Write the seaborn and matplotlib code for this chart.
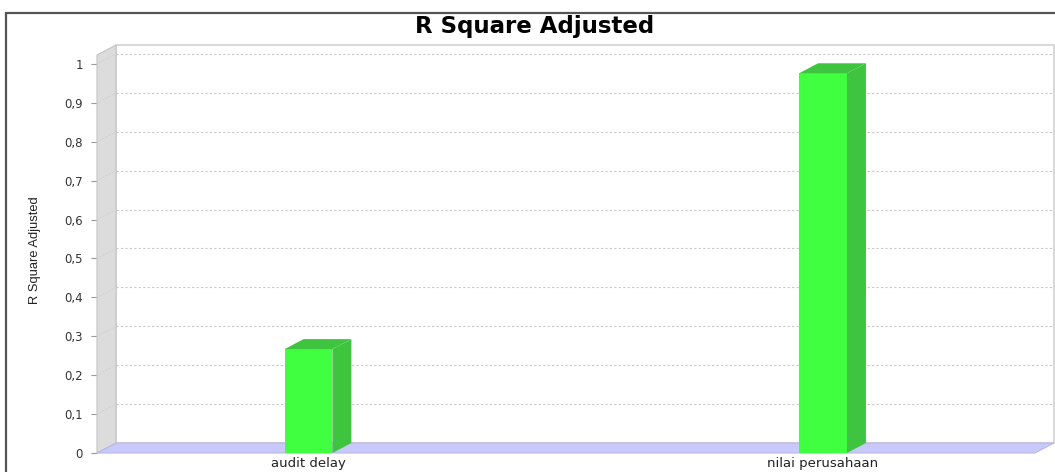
import numpy as np
import pandas as pd
import seaborn as sns
import matplotlib
matplotlib.use("Agg")
import matplotlib.pyplot as plt
from matplotlib.patches import Polygon, Rectangle
from matplotlib.ticker import FuncFormatter

# data
categories = ["audit delay", "nilai perusahaan"]
r2_adjusted = [0.267, 0.976]
y_ticks = [0, 0.1, 0.2, 0.3, 0.4, 0.5, 0.6, 0.7, 0.8, 0.9, 1.0]

sns.set_theme(style="white")
plt.rcParams["font.family"] = ["DejaVu Sans"]

W, H = 1055, 472
fig = plt.figure(figsize=(W / 100, H / 100), dpi=100)
fig.patch.set_facecolor("white")
# front plane of the 3d plot
ax = fig.add_axes([97 / W, 19 / H, 938 / W, 398 / H])
ax.set_facecolor("none")

bar_w = 0.093
df = pd.DataFrame({"model": categories, "r2": r2_adjusted})
sns.barplot(data=df, x="model", y="r2", color="#40ff40", saturation=1,
            width=bar_w, edgecolor="none", ax=ax, zorder=5)

ax.set_xlim(-0.411, 1.412)
ax.set_ylim(0, 1.023)
xmin, xmax = ax.get_xlim()
ymin, ymax = ax.get_ylim()
# depth offset (19px right, 10px up) in data units
dx = 19 * (xmax - xmin) / 938
dy = 10 * (ymax - ymin) / 398

# back wall
ax.add_patch(Rectangle((xmin + dx, ymin + dy), xmax - xmin, ymax - ymin,
                       facecolor="white", edgecolor="#d2d2d2", lw=1.2,
                       clip_on=False, zorder=0.5))
# gridlines on back wall + faint lines on the side wall
for t in y_ticks[1:]:
    ax.plot([xmin + dx, xmax + dx], [t + dy, t + dy], color="#c8c8c8", lw=0.8,
            dashes=(2, 2), clip_on=False, zorder=1)
# left wall
ax.add_patch(Polygon([(xmin, ymin), (xmin, ymax), (xmin + dx, ymax + dy),
                      (xmin + dx, ymin + dy)], closed=True,
                     facecolor="#dcdcdc", edgecolor="#c4c4c4", lw=0.8,
                     clip_on=False, zorder=2))
for t in y_ticks[1:]:
    ax.plot([xmin, xmin + dx], [t, t + dy], color="#cccccc", lw=0.6,
            dashes=(2, 2), clip_on=False, zorder=2.5)
# floor
ax.add_patch(Polygon([(xmin, 0), (xmax, 0), (xmax + dx, dy), (xmin + dx, dy)],
                     closed=True, facecolor="#c8c8fa", edgecolor="#b8b8e8",
                     lw=0.8, clip_on=False, zorder=3))

# 3d sides and tops of the bars
for i, v in enumerate(r2_adjusted):
    x0, x1 = i - bar_w / 2, i + bar_w / 2
    ax.add_patch(Polygon([(x1, 0), (x1, v), (x1 + dx, v + dy), (x1 + dx, dy)],
                         closed=True, facecolor="#3ec43e", edgecolor="none",
                         clip_on=False, zorder=5))
    ax.add_patch(Polygon([(x0, v), (x1, v), (x1 + dx, v + dy), (x0 + dx, v + dy)],
                         closed=True, facecolor="#3ec43e", edgecolor="none",
                         clip_on=False, zorder=5))

for s in ax.spines.values():
    s.set_visible(False)

ax.set_yticks(y_ticks)
ax.yaxis.set_major_formatter(FuncFormatter(lambda v, p: f"{v:g}".replace(".", ",")))
ax.tick_params(axis="y", left=True, length=4, width=0.8, color="#9a9a9a",
               pad=6, labelsize=8.5, labelcolor="#333333")
ax.tick_params(axis="x", bottom=False, length=0, pad=3, labelsize=9.5,
               labelcolor="#222222")
ax.set_xlabel("")
ax.set_ylabel("R Square Adjusted", fontsize=9.3, color="#222222",
              family=["Liberation Sans", "DejaVu Sans"])
ax.yaxis.set_label_coords((41 - 97) / 938, (453 - 250) / 398)

fig.text(535 / W, 1 - 27 / H, "R Square Adjusted", ha="center", va="center",
         fontsize=16.5, fontweight="bold", color="black")

# outer frame
fig.add_artist(Rectangle((6 / W, -0.05), 1.1, 1 - 13 / H + 0.05,
                         transform=fig.transFigure, fill=False,
                         edgecolor="#555555", lw=1.6))

fig.savefig("out.png", dpi=100)
